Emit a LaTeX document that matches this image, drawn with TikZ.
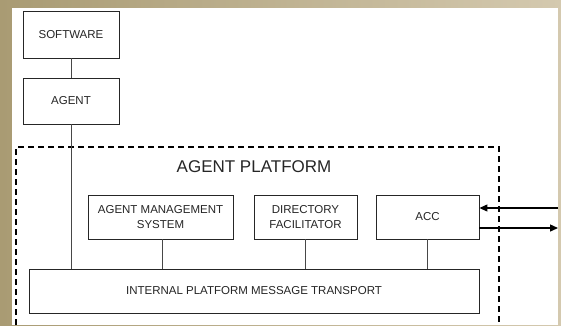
\documentclass[tikz,border=0pt]{standalone}
\usepackage{fontspec}
\setmainfont{Liberation Sans}
\usetikzlibrary{arrows.meta, positioning, calc}
\definecolor{inkgray}{HTML}{262626}
\definecolor{tanleft}{HTML}{A99B73}
\definecolor{tanright}{HTML}{D4C9AF}
\tikzset{
  >={Triangle[length=2.6mm,width=2.2mm]},
  unitbox/.style={draw=inkgray, line width=0.9pt, fill=white, align=center, text=inkgray,
                  font=\fontsize{11.5}{15}\selectfont, inner sep=0pt},
  link/.style={draw=inkgray!85, line width=0.9pt},
  flow/.style={-{Triangle[length=8pt,width=7pt]}, draw=black, line width=1.3pt},
  platform/.style={draw=black, line width=1.3pt, dash pattern=on 6pt off 4pt},
}
\begin{document}
\begin{tikzpicture}[x=1pt, y=-1pt]

% ---- backdrop ----
\useasboundingbox (0,0) rectangle (561,325);
\shade[left color=tanleft, right color=tanright] (0,0) rectangle (561,325);
\fill[white] (12,8) rectangle (558,325);

% ---- software and agent (outside) ----
\node[unitbox, minimum width=96pt, minimum height=47pt] (sw) at (71,34.5) {SOFTWARE};
\node[unitbox, minimum width=96pt, minimum height=46pt] (agent) at (71,101) {AGENT};

% ---- platform frame, open at the bottom ----
\draw[platform] (16,325) -- (16,147) -- (499,147) -- (499,325);
\node[text=inkgray, font=\fontsize{17}{17}\selectfont, anchor=base] (plat) at (254,172) {AGENT PLATFORM};

% ---- platform services ----
\node[unitbox, minimum width=145pt, minimum height=44pt] (ams) at (160.5,217) {AGENT MANAGEMENT\\SYSTEM};
\node[unitbox, minimum width=103pt, minimum height=44pt] (df) at (305.5,217) {DIRECTORY\\FACILITATOR};
\node[unitbox, minimum width=103pt, minimum height=44pt] (acc) at (427.5,217) {ACC};
\node[unitbox, minimum width=450pt, minimum height=44pt] (mt) at (254,291) {INTERNAL PLATFORM MESSAGE TRANSPORT};

% ---- links ----
\draw[link] (sw.south) -- (agent.north);
\draw[link] (agent.south) -- (agent.south |- mt.north);
\draw[link] ([xshift=1.5pt]ams.south) -- ([xshift=1.5pt]ams.south |- mt.north);
\draw[link] (df.south) -- (df.south |- mt.north);
\draw[link] (acc.south) -- (acc.south |- mt.north);

% ---- traffic with other platforms ----
\coordinate (inR) at (558,208);
\coordinate (outR) at (558,228);
\draw[flow] (inR) -- (acc.east |- inR);
\draw[flow] (acc.east |- outR) -- (outR);

\end{tikzpicture}
\end{document}
